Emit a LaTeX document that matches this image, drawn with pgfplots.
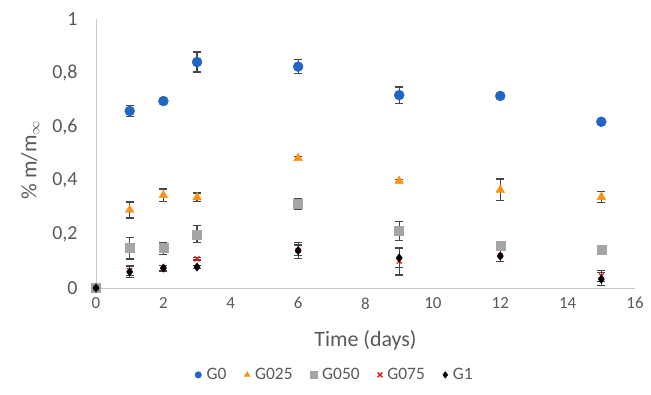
\documentclass[border=0pt]{standalone}
\usepackage{pgfplots}
\pgfplotsset{compat=1.18}
\usepackage{pgfplotstable}
\usepackage{fontspec}
\setmainfont{Carlito}
\definecolor{cG0}{RGB}{34,102,196}
\definecolor{cG025}{RGB}{255,146,20}
\definecolor{cG050}{RGB}{165,165,165}
\definecolor{cG075}{RGB}{230,20,20}
\definecolor{cG1}{RGB}{0,0,0}
\definecolor{txt}{RGB}{89,89,89}
\definecolor{errc}{RGB}{70,70,70}
\definecolor{axc}{RGB}{200,200,200}

\pgfplotstableread{
x y e
0 0 0
1 0.658 0.020
2 0.695 0.005
3 0.840 0.037
6 0.823 0.027
9 0.717 0.030
12 0.714 0.010
15 0.618 0
}\GzeroT
\pgfplotstableread{
x y e
0 0 0
1 0.290 0.030
2 0.345 0.023
3 0.337 0.016
6 0.483 0.006
9 0.398 0.006
12 0.365 0.040
15 0.338 0.020
}\GtwoT
\pgfplotstableread{
x y e
0 0 0
1 0.148 0.040
2 0.148 0.022
3 0.200 0.031
6 0.313 0.021
9 0.212 0.034
12 0.157 0
15 0.141 0
}\GfiveT
\pgfplotstableread{
x y e
0 0 0
1 0.065 0.020
2 0.075 0.010
3 0.108 0.004
6 0.140 0.020
9 0.100 0.052
12 0.120 0.020
15 0.045 0.020
}\GsevenT
\pgfplotstableread{
x y e
0 0 0
1 0.060 0.020
2 0.074 0.011
3 0.078 0.006
6 0.139 0.030
9 0.112 0.035
12 0.119 0.020
15 0.033 0.025
}\GoneT

\pgfplotsset{
  errplot/.style={draw=none, mark=none, forget plot,
    error bars/.cd, y dir=both, y explicit,
    error bar style={draw=errc, line width=1.2bp},
    error mark options={draw=errc, rotate=90, mark size=4bp, line width=1.2bp}},
}

\begin{document}
\begin{tikzpicture}
\begin{axis}[
  scale only axis,
  width=539bp, height=269bp,
  xmin=0, xmax=16, ymin=0, ymax=1,
  xtick={0,2,...,16}, ytick={0,0.2,...,1},
  axis x line*=bottom, axis y line*=left,
  axis line style={draw=axc, line width=0.9bp, -},
  major tick length=0pt,
  clip=false,
  /pgf/number format/assume math mode=true,
  /pgf/number format/use comma,
  yticklabel style={/pgf/number format/fixed, /pgf/number format/precision=1, font=\fontsize{20}{23}\selectfont, text=txt, xshift=-15bp},
  xticklabel style={font=\fontsize{17}{20}\selectfont, text=txt, yshift=-6bp},
  xlabel={Time (days)},
  xlabel style={at={(axis description cs:0.5,-0.193)}, anchor=center, font=\fontsize{22}{24}\selectfont, text=txt},
  ylabel={\% m/m$_{\infty}$},
  ylabel style={at={(axis description cs:-0.122,0.476)}, anchor=center, rotate=0, font=\fontsize{22}{24}\selectfont, text=txt},
  legend style={at={(axis description cs:0.443,-0.323)}, anchor=center, draw=none, fill=none,
    font=\fontsize{17.5}{20}\selectfont, text=txt,
    /tikz/every odd column/.append style={column sep=3bp},
    /tikz/every even column/.append style={column sep=16bp}},
  legend image post style={mark size=3.3bp},
  legend columns=5,
  legend cell align=left,
]
\addplot[only marks, mark=*, mark size=5bp, color=cG0] table[x=x,y=y]{\GzeroT};
\addlegendentry{G0}
\addplot[only marks, mark=triangle*, mark size=5bp, color=cG025] table[x=x,y=y]{\GtwoT};
\addlegendentry{G025}
\addplot[only marks, mark=square*, mark size=4.5bp, color=cG050] table[x=x,y=y]{\GfiveT};
\addlegendentry{G050}
\addplot[only marks, mark=x, mark size=3.5bp, line width=1.3bp, color=cG075] table[x=x,y=y]{\GsevenT};
\addlegendentry{G075}
\addplot[only marks, mark=diamond*, mark size=4.2bp, color=cG1] table[x=x,y=y]{\GoneT};
\addlegendentry{G1}

\addplot[errplot] table[x=x,y=y,y error=e, restrict x to domain=0.5:13]{\GzeroT};
\addplot[errplot] table[x=x,y=y,y error=e, restrict x to domain=0.5:16]{\GtwoT};
\addplot[errplot] table[x=x,y=y,y error=e, restrict x to domain=0.5:10]{\GfiveT};
\addplot[errplot] table[x=x,y=y,y error=e, restrict x to domain=0.5:16]{\GsevenT};
\addplot[errplot] table[x=x,y=y,y error=e, restrict x to domain=0.5:16]{\GoneT};
\end{axis}
\pgfresetboundingbox
\path (-96bp,-107bp) rectangle (555bp,288bp);
\end{tikzpicture}
\end{document}
